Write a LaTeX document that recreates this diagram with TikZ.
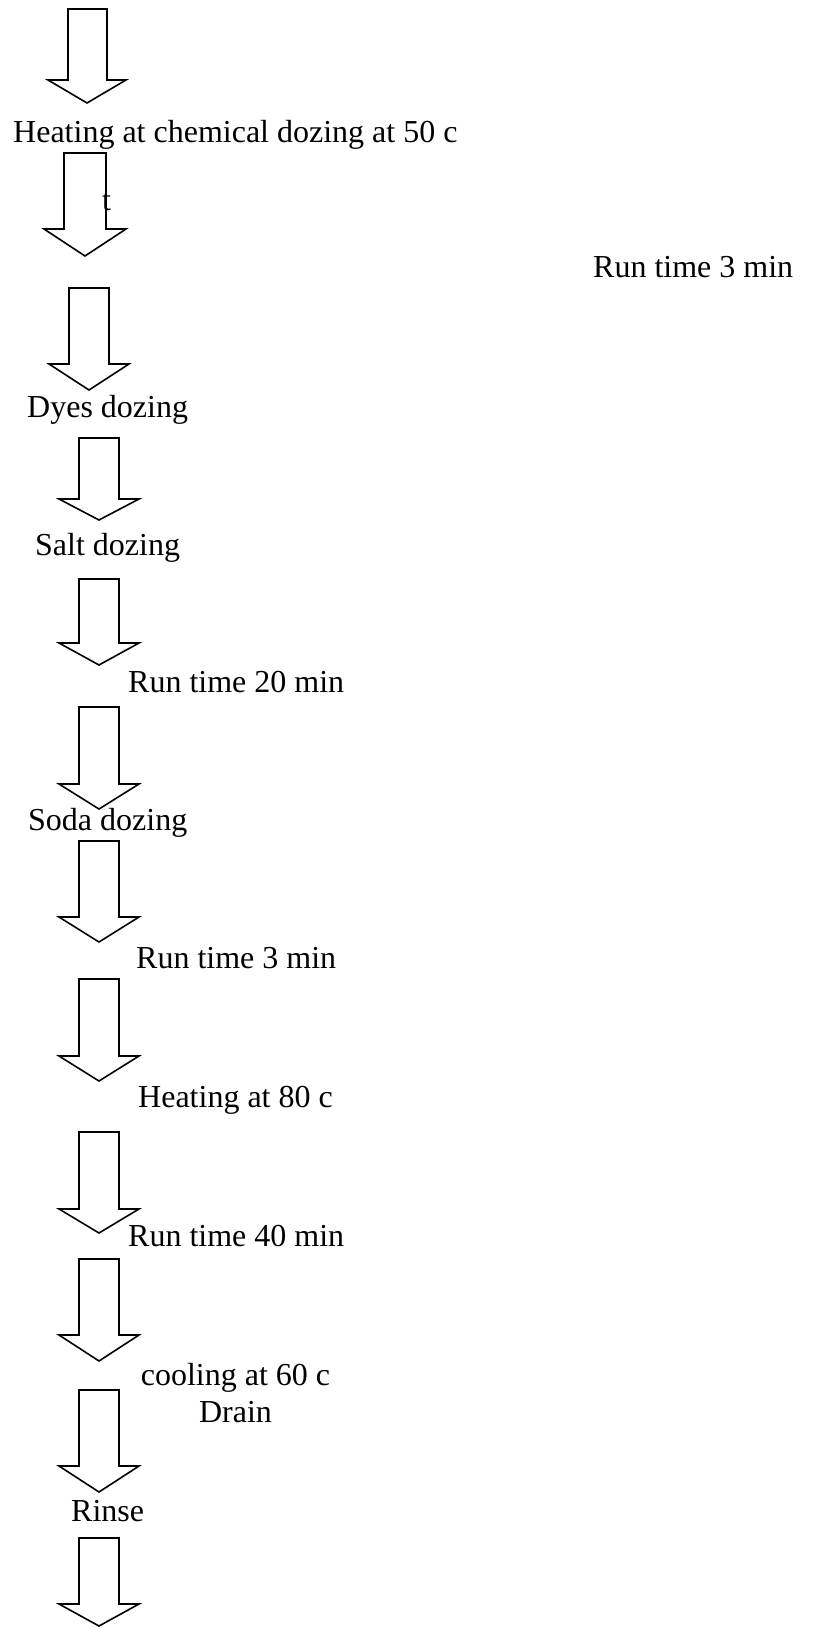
\documentclass[tikz,border=0pt]{standalone}
\usepackage{fontspec}
\setmainfont{Liberation Serif}
% Hollow block arrow pointing down.
% #1 name, #2 shaft left, #3 shaft right, #4 head left, #5 head right,
% #6 top, #7 shoulder, #8 tip
\newcommand\flowarrow[8]{%
  \draw[blockarrow] (#2,#6) -- (#3,#6) -- (#3,#7) -- (#5,#7)
    -- ({(#4+#5)/2},#8) -- (#4,#7) -- (#2,#7) -- cycle;
  \coordinate (#1-top) at ({(#2+#3)/2},#6);
  \coordinate (#1-tip) at ({(#4+#5)/2},#8);
}
\begin{document}
\begin{tikzpicture}[x=1pt,y=-1pt,
  blockarrow/.style={draw=black, line width=1.6pt, line join=miter},
  steplabel/.style={inner sep=0pt, anchor=base west, font=\fontsize{32}{38}\selectfont}]
\useasboundingbox (0,0) rectangle (814,1628);

% process arrows
\flowarrow{a1}{68}{107}{48}{126}{9}{80}{103}
\flowarrow{a2}{64}{106}{44}{126}{153}{229}{256}
\flowarrow{a3}{69}{109}{49}{129}{288}{364}{390}
\flowarrow{a4}{79}{119}{59}{139}{438}{499}{520}
\flowarrow{a5}{79}{119}{59}{139}{579}{643}{665}
\flowarrow{a6}{79}{119}{59}{139}{707}{784}{809}
\flowarrow{a7}{79}{119}{59}{139}{841}{917}{942}
\flowarrow{a8}{79}{119}{59}{139}{979}{1056}{1081}
\flowarrow{a9}{79}{119}{59}{139}{1132}{1209}{1233}
\flowarrow{a10}{79}{119}{59}{139}{1259}{1335}{1361}
\flowarrow{a11}{79}{119}{59}{139}{1390}{1466}{1492}
\flowarrow{a12}{79}{119}{59}{139}{1538}{1604}{1626}

% step labels
\node[steplabel] (heat50) at (13,142) {Heating at chemical dozing at 50 c};
\node[steplabel] (tmark) at (102,210) {t};
\node[steplabel] (run3a) at (593,277) {Run time 3 min};
\node[steplabel] (dyes) at (27,417) {Dyes dozing};
\node[steplabel] (salt) at (35,555) {Salt dozing};
\node[steplabel] (run20) at (128,692) {Run time 20 min};
\node[steplabel] (soda) at (28,830) {Soda dozing};
\node[steplabel] (run3b) at (136,968) {Run time 3 min};
\node[steplabel] (heat80) at (138,1107) {Heating at 80 c};
\node[steplabel] (run40) at (128,1246) {Run time 40 min};
\node[steplabel, anchor=base] (cool60) at (235.5,1385) {cooling at 60 c};
\node[steplabel, anchor=base] (drain) at (235.5,1422) {Drain};
\node[steplabel] (rinse) at (71,1521) {Rinse};
\end{tikzpicture}
\end{document}
